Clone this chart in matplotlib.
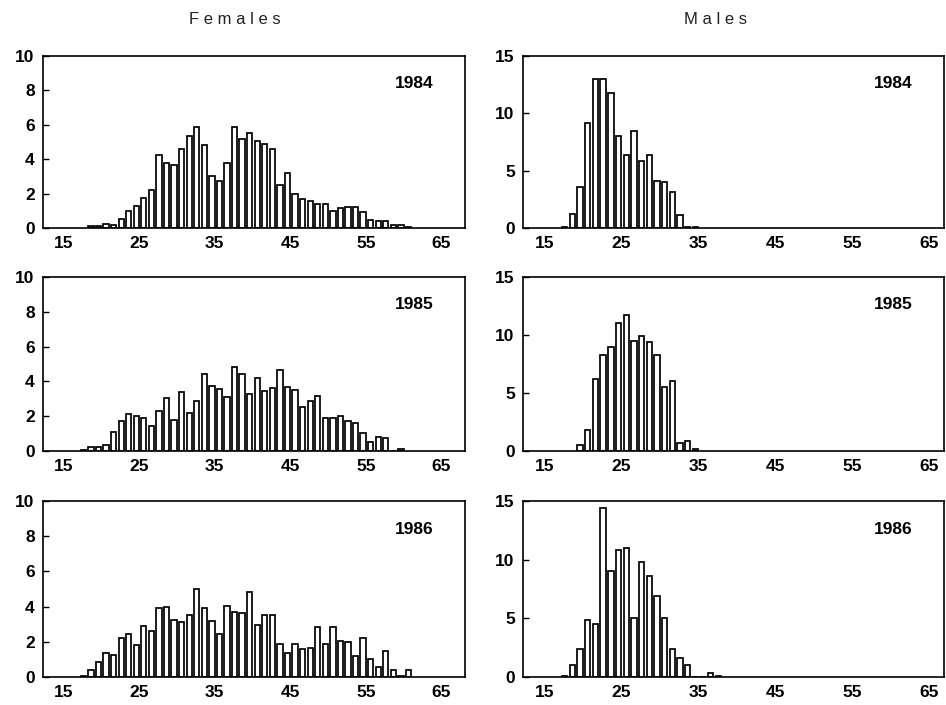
import numpy as np
import matplotlib.pyplot as plt

plt.rcParams['font.family'] = ['Liberation Sans', 'DejaVu Sans']

years = ['1984', '1985', '1986']

# age distributions (% of sample per year of age)
fem_start = [18, 17, 17]
fem_1984 = [0.1, 0.1, 0.23, 0.2, 0.5, 1.0, 1.25, 1.75, 2.2, 4.25, 3.75, 3.65, 4.6,
            5.35, 5.9, 4.85, 3.0, 2.75, 3.75, 5.85, 5.2, 5.5, 5.05, 4.9, 4.6, 2.5,
            3.2, 2.0, 1.7, 1.55, 1.4, 1.4, 1.0, 1.15, 1.2, 1.2, 0.95, 0.45, 0.4,
            0.4, 0.15, 0.2, 0.05]
fem_1985 = [0.08, 0.25, 0.25, 0.35, 1.1, 1.75, 2.15, 2.0, 1.9, 1.45, 2.3, 3.05,
            1.8, 3.4, 2.2, 2.9, 4.4, 3.75, 3.55, 3.1, 4.8, 4.45, 3.25, 4.2, 3.45,
            3.6, 4.65, 3.65, 3.5, 2.55, 2.85, 3.15, 1.9, 1.9, 2.0, 1.75, 1.6,
            1.05, 0.5, 0.8, 0.75, 0.0, 0.1]
fem_1986 = [0.08, 0.4, 0.85, 1.35, 1.25, 2.2, 2.45, 1.8, 2.9, 2.6, 3.9, 4.0, 3.25,
            3.15, 3.5, 5.0, 3.9, 3.2, 2.45, 4.05, 3.7, 3.65, 4.85, 2.95, 3.5,
            3.55, 1.85, 1.35, 1.9, 1.6, 1.65, 2.85, 1.85, 2.85, 2.05, 2.0, 1.2,
            2.2, 1.05, 0.55, 1.5, 0.4, 0.05, 0.4]

male_start = [17, 19, 17]
male_1984 = [0.1, 1.2, 3.6, 9.15, 12.95, 13.0, 11.8, 8.05, 6.35, 8.45, 5.8, 6.4,
             4.1, 4.0, 3.1, 1.15, 0.08, 0.05]
male_1985 = [0.5, 1.8, 6.2, 8.3, 8.95, 11.05, 11.75, 9.5, 9.9, 9.4, 8.25, 5.5,
             6.05, 0.72, 0.85, 0.15]
male_1986 = [0.1, 1.05, 2.4, 4.9, 4.55, 14.4, 9.0, 10.8, 11.0, 5.05, 9.8, 8.6,
             6.9, 5.05, 2.35, 1.65, 1.0, 0.0, 0.0, 0.35, 0.1]

females = [fem_1984, fem_1985, fem_1986]
males = [male_1984, male_1985, male_1986]

xticks = [15, 25, 35, 45, 55, 65]

fig = plt.figure(figsize=(9.46, 7.05), dpi=100)

rows = [(0.6766, 0.2440), (0.3603, 0.2468), (0.0397, 0.2496)]

def panel(left, width, row, vals, start, ymax, yticks, xlim, year):
    ax = fig.add_axes([left, rows[row][0], width, rows[row][1]])
    ages = np.arange(start, start + len(vals))
    ax.bar(ages + 0.28, vals, width=0.7, align='edge', color='white',
           edgecolor='black', linewidth=1.25)
    ax.set_xlim(*xlim)
    ax.set_ylim(0, ymax)
    ax.set_yticks(yticks)
    ax.set_xticks(xticks)
    ax.tick_params(axis='y', direction='in', length=4, width=1, pad=6,
                   labelsize=12.5)
    ax.tick_params(axis='x', length=0, pad=6, labelsize=12.5)
    for lab in ax.get_xticklabels() + ax.get_yticklabels():
        lab.set_fontweight('bold')
    for s in ax.spines.values():
        s.set_linewidth(1.2)
    ax.text(0.88, 0.84, year, transform=ax.transAxes, ha='center',
            va='center', fontsize=12.5, fontweight='bold')
    return ax

for i in range(3):
    panel(0.0455, 0.446, i, females[i], fem_start[i], 10, [0, 2, 4, 6, 8, 10],
          (12.3, 68.1), years[i])
    panel(0.5529, 0.445, i, males[i], male_start[i], 15, [0, 5, 10, 15],
          (12.2, 67.0), years[i])

fig.text(235 / 946, 1 - 20 / 705, 'F e m a l e s', ha='center', va='center',
         fontsize=12, color='#222222')
fig.text(715 / 946, 1 - 20 / 705, 'M a l e s', ha='center', va='center',
         fontsize=12, color='#222222')

fig.savefig('out.png', dpi=100)
